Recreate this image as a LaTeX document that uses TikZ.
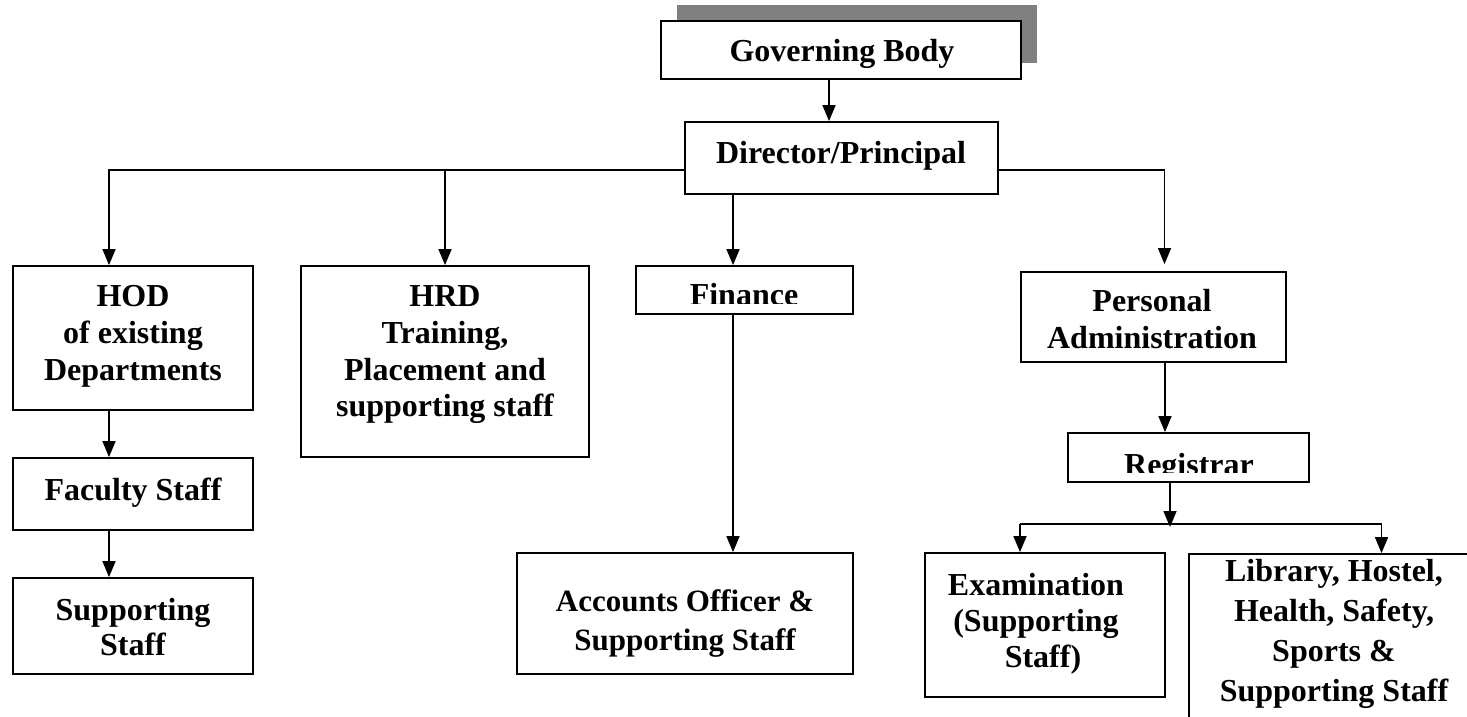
\documentclass[tikz,border=0pt]{standalone}
\usepackage{fontspec}
\setmainfont{Liberation Serif}
\usetikzlibrary{arrows.meta}
\begin{document}
\begin{tikzpicture}[x=1pt,y=-1pt,
  box/.style={draw, line width=1.8pt, inner sep=0pt, fill=white},
  txt/.style={inner sep=0pt, align=center, font=\fontsize{32}{36.7}\selectfont\bfseries},
  conn/.style={line width=1.6pt},
  arr/.style={conn, -{Triangle[length=16pt,width=13pt]}},
  shadowbox/.style={fill=black!50, draw=none, inner sep=0pt}
]
\useasboundingbox (0,0) rectangle (1467,717);
% boxes
\node[shadowbox, minimum width=360pt, minimum height=58pt] (gbshadow) at (857,34) {};
\node[box, minimum width=360pt, minimum height=58pt] (gb) at (841,50) {};
\node[box, minimum width=313pt, minimum height=72pt] (dir) at (841.5,158) {};
\node[box, minimum width=240pt, minimum height=144pt] (hod) at (133,338) {};
\node[box, minimum width=288pt, minimum height=191pt] (hrd) at (445,361.5) {};
\node[box, minimum width=217pt, minimum height=48pt] (fin) at (744.5,290) {};
\node[box, minimum width=265pt, minimum height=90pt] (pers) at (1153.5,317) {};
\node[box, minimum width=240pt, minimum height=72pt] (fac) at (133,494) {};
\node[box, minimum width=240pt, minimum height=96pt] (sup) at (133,626) {};
\node[box, minimum width=336pt, minimum height=121pt] (acc) at (685,613.5) {};
\node[box, minimum width=241pt, minimum height=49pt] (reg) at (1188.5,457.5) {};
\node[box, minimum width=240pt, minimum height=144pt] (exam) at (1045,625) {};
\node[box, minimum width=290pt, minimum height=190pt] (lib) at (1334,649) {};
% texts
\node[txt, anchor=north] (gbtxt) at (842,36) {\strut Governing Body};
\node[txt, anchor=north] (dirtxt) at (841,137.6) {\strut Director/Principal};
\node[txt, anchor=north] (hodtxt) at (133,281) {\strut HOD\\\strut of existing\\\strut Departments};
\node[txt, anchor=north] (hrdtxt) at (445,281) {\strut HRD\\\strut Training,\\\strut Placement and\\\strut supporting staff};
\begin{scope}
\clip (636,266) rectangle (853,303);
\node[txt, anchor=base] (fintxt) at (744,305) {Finance};
\end{scope}
\node[txt, anchor=north] (perstxt) at (1152,286) {\strut Personal\\\strut Administration};
\begin{scope}
\clip (1068,433) rectangle (1309,472);
\node[txt, anchor=base] (regtxt) at (1189,475) {Registrar};
\end{scope}
\node[txt, anchor=north] (factxt) at (133,474.3) {\strut Faculty Staff};
\node[txt, anchor=north, font=\fontsize{32}{35}\selectfont\bfseries] (suptxt) at (133,595.5) {\strut Supporting\\\strut Staff};
\node[txt, anchor=north, font=\fontsize{31}{38.3}\selectfont\bfseries] (acctxt) at (685,584.9) {\strut Accounts Officer \&\\\strut Supporting Staff};
\node[txt, anchor=north, font=\fontsize{32}{36}\selectfont\bfseries] (examtxt) at (1036,569.8) {\strut Examination\\\strut (Supporting\\\strut \hspace*{14pt}Staff)};
\node[txt, anchor=north, font=\fontsize{32}{40}\selectfont\bfseries] (libtxt) at (1334,553) {\strut Library, Hostel,\\\strut Health, Safety,\\\strut Sports \&\\\strut Supporting Staff};
% helper coordinates
\coordinate (leftx) at (109,0);
\coordinate (finx) at (733,0);
\coordinate (persx) at (1164.5,0);
\coordinate (regx) at (1165,0);
\coordinate (split) at (1170,527);
\coordinate (sl) at (1020,524);
\coordinate (sr) at (1381.5,524);
\coordinate (busL) at ([yshift=-12pt]dir.west);
\coordinate (busR) at ([yshift=-12pt]dir.east);
% connectors
\draw[arr] ([xshift=-12pt]gb.south) -- ([xshift=-12pt]gb.south |- dir.north);
\draw[arr] (busL) -| (hod.north -| leftx);
\draw[arr] (busL -| hrd.north) -- (hrd.north);
\draw[arr] (dir.south -| finx) -- (fin.north -| finx);
\draw[arr, shorten >=7pt] (busR) -| (pers.north -| persx);
\draw[arr] (fin.south -| finx) -- (acc.north -| finx);
\draw[arr] (hod.south -| leftx) -- (fac.north -| leftx);
\draw[arr] (fac.south -| leftx) -- (sup.north -| leftx);
\draw[arr] (pers.south -| regx) -- (reg.north -| regx);
\draw[arr] (reg.south -| split) -- (split);
\draw[conn] (sl) -- (sr);
\draw[arr] (sl) -- (sl |- exam.north);
\draw[arr] (sr) -- (sr |- lib.north);
\end{tikzpicture}
\end{document}
